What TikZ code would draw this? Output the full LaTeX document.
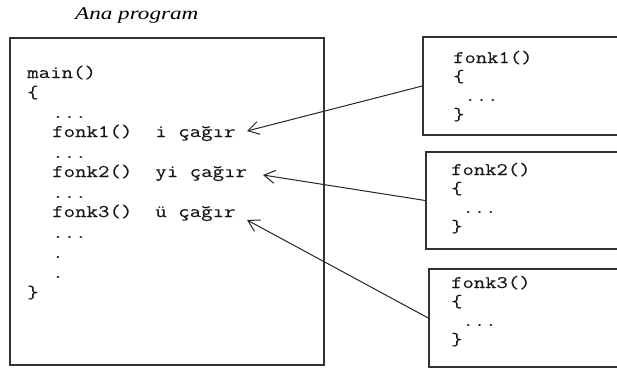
\documentclass[tikz,border=0pt]{standalone}
\usepackage{fontspec}
\usetikzlibrary{arrows.meta}
\newfontfamily\codefont[FakeStretch=1.25,FakeBold=0.2]{Latin Modern Mono}
\newfontfamily\titlefont[FakeStretch=1.3]{Liberation Serif}
\begin{document}
\begin{tikzpicture}[x=1pt,y=-1pt,
  frame/.style={draw=black!80,line width=1.5pt,rectangle,inner sep=0pt},
  code/.style={anchor=base west,inner sep=0pt,font=\codefont\fontsize{17.8}{19}\selectfont,text=black!90},
  bcode/.style={anchor=base west,inner sep=0pt,font=\codefont\fontsize{17.6}{19}\selectfont,text=black!90},
  callarrow/.style={draw=black!85,line width=1pt,-{Straight Barb[length=11pt,width=13pt,line width=1pt]}}]
\clip (0,0) rectangle (617,372);
\fill[white] (0,0) rectangle (617,372);
% title
\node[anchor=base west,inner sep=0pt,font=\titlefont\itshape\fontsize{17.8}{20}\selectfont] (title) at (75,19) {Ana program};
% main box
\node[frame,minimum width=314pt,minimum height=327pt] (mainbox) at (167,201.5) {};
\node[code] (m1) at (27,78) {main()};
\node[code] (m2) at (27,98) {\{};
\node[code] (m3) at (52,118) {...};
\node[code] (m4) at (52,137) {fonk1()~~i~çağır};
\node[code] (m5) at (52,158) {...};
\node[code] (m6) at (52,177) {fonk2()~~yi~çağır};
\node[code] (m7) at (52,198) {...};
\node[code] (m8) at (52,217) {fonk3()~~ü~çağır};
\node[code] (m9) at (52,238) {...};
\node[code] (m10) at (52,258) {.};
\node[code] (m11) at (52,278) {.};
\node[code] (m12) at (27,298) {\}};
% function boxes
\node[frame,minimum width=210pt,minimum height=98pt] (b1) at (528,86) {};
\node[frame,minimum width=210pt,minimum height=97pt] (b2) at (531,200.5) {};
\node[frame,minimum width=210pt,minimum height=98pt] (b3) at (534,318) {};
\node[bcode] (f11) at (453,63) {fonk1()};
\node[bcode] (f12) at (453,82) {\{};
\node[bcode] (f13) at (453,101) {~...};
\node[bcode] (f14) at (453,120) {\}};
\node[bcode] (f21) at (451,175) {fonk2()};
\node[bcode] (f22) at (451,194) {\{};
\node[bcode] (f23) at (451,213) {~...};
\node[bcode] (f24) at (451,232) {\}};
\node[bcode] (f31) at (451,288) {fonk3()};
\node[bcode] (f32) at (451,307) {\{};
\node[bcode] (f33) at (451,326) {~...};
\node[bcode] (f34) at (451,345) {\}};
% arrow targets
\coordinate (t1) at (247,131);
\coordinate (t2) at (263,175);
\coordinate (t3) at (247,220);
\draw[callarrow] (b1.west) -- (t1);
\draw[callarrow] (b2.west) -- (t2);
\draw[callarrow] (b3.west) -- (t3);
\end{tikzpicture}
\end{document}
